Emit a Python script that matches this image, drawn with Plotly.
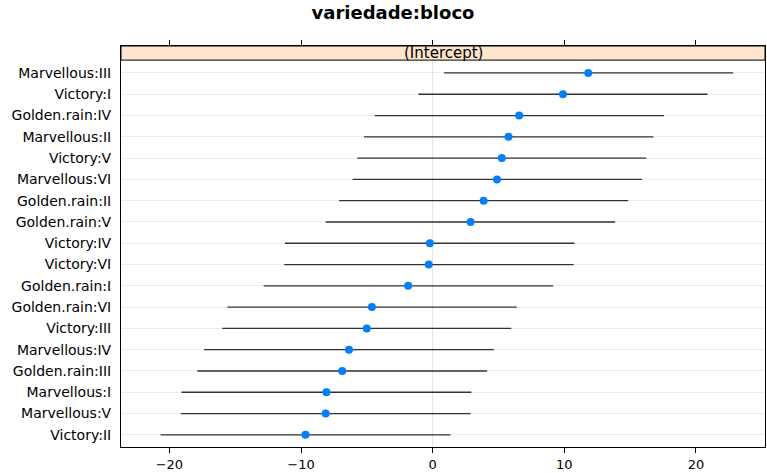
import plotly.graph_objects as go

# ---- data ----
categories = ["Marvellous:III", "Victory:I", "Golden.rain:IV", "Marvellous:II",
              "Victory:V", "Marvellous:VI", "Golden.rain:II", "Golden.rain:V",
              "Victory:IV", "Victory:VI", "Golden.rain:I", "Golden.rain:VI",
              "Victory:III", "Marvellous:IV", "Golden.rain:III", "Marvellous:I",
              "Marvellous:V", "Victory:II"]
estimate = [11.82, 9.90, 6.57, 5.76, 5.25, 4.89, 3.87, 2.88, -0.21, -0.30,
            -1.86, -4.62, -5.01, -6.36, -6.87, -8.07, -8.13, -9.66]
lower = [0.87, -1.08, -4.41, -5.22, -5.73, -6.09, -7.11, -8.13, -11.22, -11.28,
         -12.84, -15.60, -15.99, -17.37, -17.88, -19.08, -19.14, -20.67]
upper = [22.83, 20.88, 17.58, 16.77, 16.23, 15.90, 14.85, 13.86, 10.77, 10.71,
         9.15, 6.39, 5.97, 4.65, 4.14, 2.94, 2.88, 1.35]
x_ticks = [-20, -10, 0, 10, 20]
title_text = "variedade:bloco"
strip_text = "(Intercept)"

FONT = "DejaVu Sans"

seg_x, seg_y = [], []
for c, lo, hi in zip(categories, lower, upper):
    seg_x += [lo, hi, None]
    seg_y += [c, c, None]

fig = go.Figure()
fig.add_trace(go.Scatter(x=seg_x, y=seg_y, mode="lines",
                         line=dict(color="#333333", width=1.3),
                         hoverinfo="skip", showlegend=False))
fig.add_trace(go.Scatter(x=estimate, y=categories, mode="markers",
                         marker=dict(color="#0080FF", size=8, line=dict(width=0)),
                         showlegend=False))

strip_frac = (452 - 60.3) / 406.0

fig.update_layout(
    width=767, height=473,
    margin=dict(l=121, r=1, t=46, b=21),
    paper_bgcolor="white", plot_bgcolor="white",
    title=dict(text="<b>" + title_text + "</b>", x=393 / 767, xanchor="center",
               xref="container", yref="container", y=1 - 13 / 473, yanchor="middle",
               font=dict(family=FONT, size=18, color="black")),
    xaxis=dict(range=[-23.68, 25.25], tickvals=x_ticks,
               ticktext=[("\u2212" + str(abs(v))) if v < 0 else str(v) for v in x_ticks],
               showgrid=False, zeroline=True, zerolinecolor="#e6e6e6", zerolinewidth=1,
               showline=True, linecolor="black", linewidth=1, mirror="ticks",
               ticks="outside", ticklen=5, tickcolor="black", tickwidth=1,
               tickfont=dict(family=FONT, size=13, color="black")),
    yaxis=dict(type="category", categoryorder="array",
               categoryarray=list(reversed(categories)),
               range=[-0.571, 18.267], showgrid=True, gridcolor="#ebebeb", gridwidth=1,
               zeroline=False, showline=True, linecolor="black", linewidth=1,
               mirror=True, ticks="", ticklabelstandoff=6,
               tickfont=dict(family=FONT, size=14, color="black")),
    shapes=[dict(type="rect", xref="paper", yref="paper", x0=0, x1=1,
                 y0=strip_frac, y1=1, fillcolor="#FFE5CC",
                 line=dict(color="black", width=1), layer="above")],
    annotations=[dict(text=strip_text, xref="paper", yref="paper", x=0.5,
                      y=(strip_frac + 1) / 2, xanchor="center", yanchor="middle",
                      showarrow=False, font=dict(family=FONT, size=15, color="black"))],
)

fig.write_html("out.html")
